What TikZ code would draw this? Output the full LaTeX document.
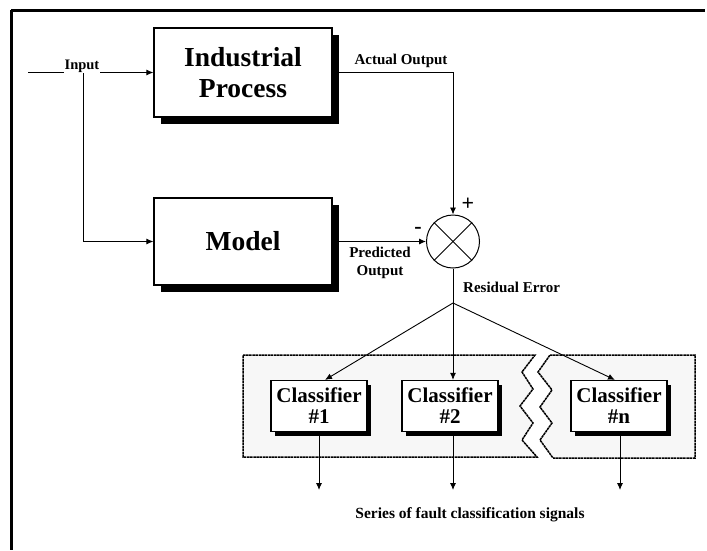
\documentclass[tikz,border=0pt]{standalone}
\usepackage{fontspec}
\setmainfont{Liberation Serif}
\usetikzlibrary{arrows.meta,shadows,calc}
\begin{document}
\begin{tikzpicture}[x=1pt,y=-1pt,
  wire/.style={line width=0.9pt},
  arr/.style={wire,-{Latex[length=7pt,width=6pt]}},
  bigbox/.style={draw,line width=1.2pt,fill=white,minimum width=178pt,align=center,
    font=\bfseries\fontsize{27.5}{31}\selectfont,
    drop shadow={shadow xshift=7pt,shadow yshift=-7pt,fill=black,opacity=1}},
  clsbox/.style={draw,line width=1.2pt,fill=white,minimum width=96pt,minimum height=51pt,
    align=center,font=\bfseries\fontsize{21}{21}\selectfont,
    drop shadow={shadow xshift=4pt,shadow yshift=-4pt,fill=black,opacity=1}},
  lbl/.style={font=\bfseries\fontsize{14.5}{16}\selectfont,inner sep=1pt,align=center},
  sign/.style={font=\bfseries\fontsize{22}{22}\selectfont,inner sep=0pt},
  bank/.style={draw,line width=1.5pt,dash pattern=on 2.5pt off 0.6pt,fill=gray!6}
]
\useasboundingbox (0,0) rectangle (707,550);

% frame on top and left
\draw[line width=3pt] (11,10) -- (705,10);
\draw[line width=3pt] (11,10) -- (11,550);

% process and model blocks
\node[bigbox,minimum height=89pt] (proc) at (243,72.5) {Industrial\\Process};
\node[bigbox,minimum height=87pt] (model) at (243,241.5) {Model};

% summing junction
\node[draw,circle,line width=1pt,minimum size=53pt,inner sep=0pt] (sum) at (453,241.5) {};
\draw[line width=1pt] (sum.north west) -- (sum.south east);
\draw[line width=1pt] (sum.north east) -- (sum.south west);

% input and its branch to the model
\coordinate (in) at (28,72.5);
\coordinate (br) at (83,72.5);
\draw[arr] (in) -- (proc.west);
\draw[arr] (br) |- (model.west);
\node[lbl,fill=white] (inlbl) at (82,66) {Input};

% outputs into the junction
\draw[arr] (proc.east) -| (sum.north);
\node[lbl,anchor=south,font=\bfseries\fontsize{15}{16}\selectfont] (actlbl) at (401,69) {Actual Output};
\draw[arr] (model.east) -- (sum.west);
\node[lbl,anchor=north,font=\bfseries\fontsize{15}{18}\selectfont] (predlbl) at (380,246) {Predicted\\Output};
\node[sign] (plus) at (468,204) {+};
\node[sign] (minus) at (418,230) {-};

% residual error
\coordinate (split) at (453,303);
\draw[wire] (sum.south) -- (split);
\node[lbl,anchor=west,font=\bfseries\fontsize{15}{17}\selectfont] (reslbl) at (462,287) {Residual Error};

% bank of classifiers, broken by a zigzag
\path[bank] (243,355) -- (535,355) -- (522,372) -- (533,389) -- (520,406)
  -- (533,423) -- (522,440) -- (537,457) -- (243,457) -- cycle;
\path[bank] (550,355) -- (695,355) -- (695,458) -- (553,458) -- (540,440)
  -- (552,423) -- (540,407) -- (552,390) -- (538,372) -- cycle;

\node[clsbox] (c1) at (319,406) {Classifier\\\#1};
\node[clsbox] (c2) at (450,406) {Classifier\\\#2};
\node[clsbox] (cn) at (619,406) {Classifier\\\#n};

\draw[arr] (split) -- ([xshift=6pt]c1.north);
\draw[arr] (split) -- ([xshift=3pt]c2.north);
\draw[arr] (split) -- ([xshift=-4pt]cn.north);

% classification signals
\coordinate (o1) at (319,490);
\coordinate (o2) at (453,490);
\coordinate (on) at (620,490);
\draw[arr] (c1.south) -- (o1);
\draw[arr] ([xshift=3pt]c2.south) -- (o2);
\draw[arr] ([xshift=1pt]cn.south) -- (on);
\node[lbl,font=\bfseries\fontsize{15.5}{17}\selectfont] (serlbl) at (470,515) {Series of fault classification signals};
\end{tikzpicture}
\end{document}
